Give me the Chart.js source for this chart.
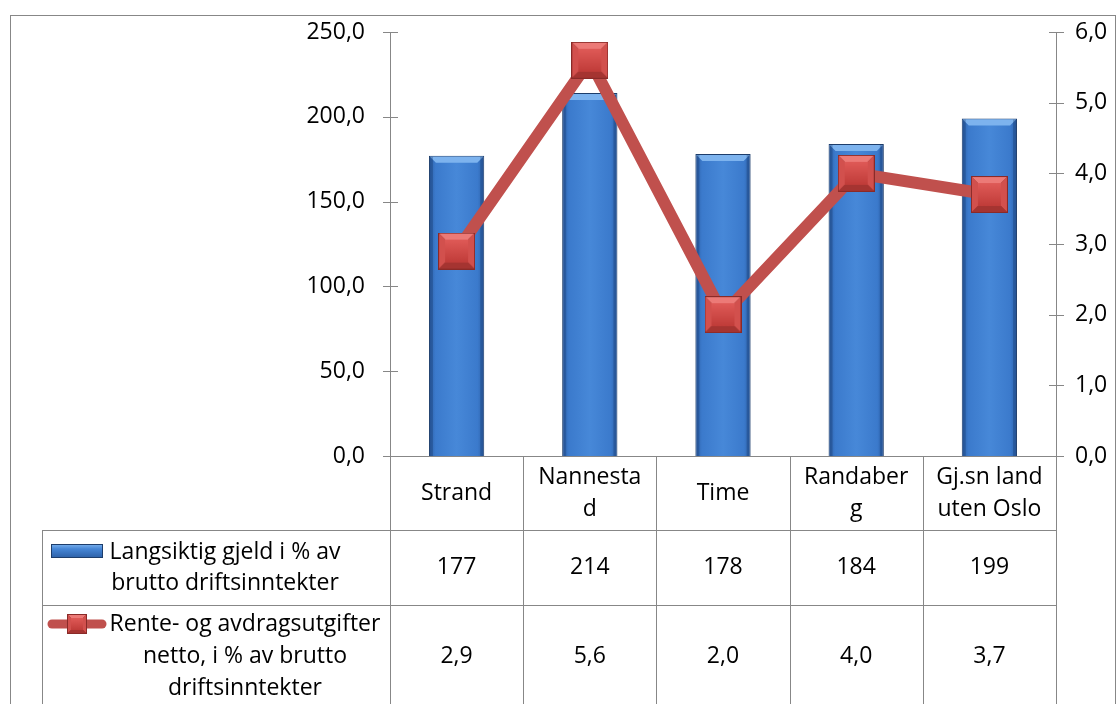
<!DOCTYPE html>
<html>
<head>
<meta charset="utf-8">
<script src="https://cdn.jsdelivr.net/npm/chart.js@4.4.1/dist/chart.umd.min.js"></script>
<style>
  html, body { margin: 0; padding: 0; background: #fff; }
  #wrap { width: 1119px; height: 704px; }
</style>
</head>
<body>
<div id="wrap"><canvas id="chart" width="1119" height="704"></canvas></div>
<script>
// data
const categories = [["Strand"], ["Nannesta", "d"], ["Time"], ["Randaber", "g"], ["Gj.sn land", "uten Oslo"]];
const gjeldValues = [177, 214, 178, 184, 199];
const renteValues = [2.9, 5.6, 2.0, 4.0, 3.7];
const gjeldLabel = ["Langsiktig gjeld i % av", "brutto driftsinntekter"];
const renteLabel = ["Rente- og avdragsutgifter", "netto, i % av brutto", "driftsinntekter"];
const leftAxis = { min: 0, max: 250, step: 50 };
const rightAxis = { min: 0, max: 6, step: 1 };

const FONT = "'Open Sans', 'Noto Sans', sans-serif";
const FSIZE = 23;
const GRID = "#878787";
const BAR_PCT = 0.415;
const fmt1 = v => Number(v).toFixed(1).replace(".", ",");

// bevelled square marker, like the Excel style
function makeMarker(size) {
    const c = document.createElement("canvas");
    c.width = size; c.height = size;
    const g = c.getContext("2d");
    const b = Math.max(3, Math.round(size * 0.19));
    g.fillStyle = "#8a2a28";
    g.fillRect(0, 0, size, size);
    // top bevel
    g.fillStyle = "#ec7a77";
    g.beginPath(); g.moveTo(1, 1); g.lineTo(size - 1, 1); g.lineTo(size - b, b); g.lineTo(b, b); g.fill();
    // left / right bevel
    g.fillStyle = "#d2504d";
    g.beginPath(); g.moveTo(1, 1); g.lineTo(b, b); g.lineTo(b, size - b); g.lineTo(1, size - 1); g.fill();
    g.beginPath(); g.moveTo(size - 1, 1); g.lineTo(size - b, b); g.lineTo(size - b, size - b); g.lineTo(size - 1, size - 1); g.fill();
    // bottom bevel
    g.fillStyle = "#a53431";
    g.beginPath(); g.moveTo(1, size - 1); g.lineTo(b, size - b); g.lineTo(size - b, size - b); g.lineTo(size - 1, size - 1); g.fill();
    // face
    const gr = g.createLinearGradient(0, b, 0, size - b);
    gr.addColorStop(0, "#df5a57");
    gr.addColorStop(1, "#c03c39");
    g.fillStyle = gr;
    g.fillRect(b, b, size - 2 * b, size - 2 * b);
    return c;
}
const marker = makeMarker(37);

function barGradient(ctx, x0, x1) {
    const gr = ctx.createLinearGradient(x0, 0, x1, 0);
    gr.addColorStop(0, "#2c5fa6");
    gr.addColorStop(0.12, "#3b7acc");
    gr.addColorStop(0.5, "#4788d8");
    gr.addColorStop(0.88, "#3b7acc");
    gr.addColorStop(1, "#2c5fa6");
    return gr;
}

const bevelPlugin = {
    id: "barBevel",
    afterDatasetDraw(chart, args) {
        if (args.index !== 0) return;
        const ctx = chart.ctx;
        args.meta.data.forEach(bar => {
            const w = bar.width, x0 = bar.x - w / 2, x1 = bar.x + w / 2, y = bar.y, b = 7;
            ctx.save();
            ctx.fillStyle = "#7db3ee";
            ctx.beginPath(); ctx.moveTo(x0 + 1, y + 1); ctx.lineTo(x1 - 1, y + 1); ctx.lineTo(x1 - b, y + b); ctx.lineTo(x0 + b, y + b); ctx.fill();
            ctx.fillStyle = "rgba(20,50,100,0.3)";
            ctx.fillRect(x0 + 1, y + 1, 3, chart.chartArea.bottom - y - 1);
            ctx.fillRect(x1 - 4, y + 1, 3, chart.chartArea.bottom - y - 1);
            ctx.restore();
        });
    }
};

function hLine(ctx, x0, x1, y) { ctx.beginPath(); ctx.moveTo(x0, y + 0.5); ctx.lineTo(x1, y + 0.5); ctx.stroke(); }
function vLine(ctx, x, y0, y1) { ctx.beginPath(); ctx.moveTo(x + 0.5, y0); ctx.lineTo(x + 0.5, y1); ctx.stroke(); }

function drawLines(ctx, lines, cx, cy, lh) {
    const start = cy - (lines.length - 1) * lh / 2;
    lines.forEach((t, i) => ctx.fillText(t, cx, start + i * lh));
}

const tablePlugin = {
    id: "dataTable",
    afterDraw(chart) {
        const ctx = chart.ctx;
        const area = chart.chartArea;
        const xs = chart.scales.x;
        const yl = chart.scales.y, yr = chart.scales.y1;
        const colW = area.width / categories.length;
        const H = chart.height;
        const left = Math.round(area.left), right = Math.round(area.right);
        const r0 = Math.round(area.bottom), r1 = 530, r2 = 605;
        const keyLeft = 42;
        ctx.save();
        ctx.strokeStyle = GRID;
        ctx.lineWidth = 1;
        // outer frame
        ctx.strokeRect(10.5, 15.5, 1105, H + 20);
        // axis ticks, crossing the axis lines
        yl.ticks.forEach(t => { const y = Math.round(yl.getPixelForValue(t.value)); hLine(ctx, left - 7, left + 8, y); });
        yr.ticks.forEach(t => { const y = Math.round(yr.getPixelForValue(t.value)); hLine(ctx, right - 7, right + 8, y); });
        // table grid
        hLine(ctx, left, right, r0);
        hLine(ctx, keyLeft, right, r1);
        hLine(ctx, keyLeft, right, r2);
        vLine(ctx, keyLeft, r1, H);
        for (let i = 0; i <= categories.length; i++) {
            vLine(ctx, Math.round(area.left + i * colW), i === 0 || i === categories.length ? area.top : r0, H);
        }
        // text
        ctx.fillStyle = "#000";
        ctx.font = FSIZE + "px " + FONT;
        ctx.textAlign = "center";
        ctx.textBaseline = "middle";
        categories.forEach((c, i) => {
            const cx = xs.getPixelForValue(i);
            drawLines(ctx, c, cx, (r0 + r1) / 2, 32);
            ctx.fillText(String(gjeldValues[i]), cx, (r1 + r2) / 2);
            ctx.fillText(fmt1(renteValues[i]), cx, 656);
        });
        drawLines(ctx, gjeldLabel, 225, (r1 + r2) / 2, 31);
        drawLines(ctx, renteLabel, 245, 656, 32);
        // legend keys
        const kx0 = 51, kx1 = 103, ky0 = 544, ky1 = 558;
        const kg = ctx.createLinearGradient(0, ky0, 0, ky1);
        kg.addColorStop(0, "#7db3ee");
        kg.addColorStop(0.35, "#4686d6");
        kg.addColorStop(1, "#2c5fa6");
        ctx.fillStyle = kg;
        ctx.fillRect(kx0, ky0, kx1 - kx0, ky1 - ky0);
        ctx.strokeStyle = "#1d3d6b";
        ctx.strokeRect(kx0 + 0.5, ky0 + 0.5, kx1 - kx0 - 1, ky1 - ky0 - 1);
        ctx.strokeStyle = "#c0504d";
        ctx.lineWidth = 9;
        ctx.lineCap = "round";
        ctx.beginPath(); ctx.moveTo(52, 624); ctx.lineTo(102, 624); ctx.stroke();
        ctx.drawImage(makeMarker(20), 67, 614, 20, 20);
        ctx.restore();
    }
};

new Chart(document.getElementById("chart"), {
    type: "bar",
    data: {
        labels: categories.map(c => c.join("")),
        datasets: [{
            type: "bar",
            label: gjeldLabel.join(" "),
            data: gjeldValues,
            yAxisID: "y",
            order: 1,
            categoryPercentage: 1,
            barPercentage: BAR_PCT,
            borderColor: "#1d3d6b",
            borderWidth: 1,
            backgroundColor: c => {
                const xs = c.chart.scales.x;
                if (!xs || c.dataIndex === undefined || !xs.width) return "#3f7fd0";
                const half = xs.width / categories.length * BAR_PCT / 2;
                const cx = xs.getPixelForValue(c.dataIndex);
                if (!isFinite(cx) || !isFinite(half)) return "#3f7fd0";
                return barGradient(c.chart.ctx, cx - half, cx + half);
            }
        }, {
            type: "line",
            label: renteLabel.join(" "),
            data: renteValues,
            yAxisID: "y1",
            order: 0,
            borderColor: "#c0504d",
            borderWidth: 12,
            tension: 0,
            pointStyle: marker,
            pointRadius: 19,
            pointHoverRadius: 19
        }]
    },
    options: {
        responsive: false,
        devicePixelRatio: 1,
        animation: false,
        layout: { autoPadding: false, padding: { top: 32, left: 0, right: 0, bottom: 248 } },
        plugins: { legend: { display: false }, tooltip: { enabled: false } },
        scales: {
            x: { display: false, offset: true },
            y: {
                position: "left",
                min: leftAxis.min, max: leftAxis.max,
                grid: { display: false, drawTicks: false },
                border: { display: true, color: GRID },
                ticks: { stepSize: leftAxis.step, padding: 25, color: "#000", font: { family: FONT, size: FSIZE }, callback: v => fmt1(v) },
                afterFit: s => { s.width = 390; s.paddingTop = 0; s.paddingBottom = 0; }
            },
            y1: {
                position: "right",
                min: rightAxis.min, max: rightAxis.max,
                grid: { display: false, drawTicks: false },
                border: { display: true, color: GRID },
                ticks: { stepSize: rightAxis.step, padding: 19, color: "#000", font: { family: FONT, size: FSIZE }, callback: v => fmt1(v) },
                afterFit: s => { s.width = 63; s.paddingTop = 0; s.paddingBottom = 0; }
            }
        }
    },
    plugins: [bevelPlugin, tablePlugin]
});
</script>
</body>
</html>
